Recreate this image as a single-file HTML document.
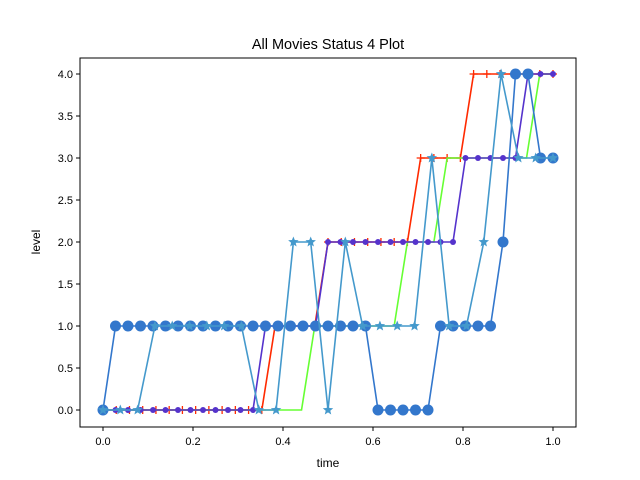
<!DOCTYPE html>
<html><head><meta charset="utf-8"><style>body{margin:0;background:#fff}svg{display:block;font-family:"Liberation Sans","DejaVu Sans",sans-serif}</style></head>
<body>
<svg id="chart" width="640" height="480" xmlns="http://www.w3.org/2000/svg">
<rect width="640" height="480" fill="#fff"/>
<text x="328" y="49" font-size="14.5" text-anchor="middle">All Movies Status 4 Plot</text>
<g id="plot"></g>
<rect x="80" y="58" width="496" height="369" fill="none" stroke="#000" stroke-width="1"/>
<g id="axes" font-size="11"></g>
<text x="328" y="467" font-size="12" text-anchor="middle">time</text>
<text x="40" y="242" font-size="12" text-anchor="middle" transform="rotate(-90 40 242)">level</text>
</svg>
<script>
const xTicks=[0,0.2,0.4,0.6,0.8,1.0];
const xTickLabels=["0.0","0.2","0.4","0.6","0.8","1.0"];
const yTicks=[0,0.5,1,1.5,2,2.5,3,3.5,4];
const yTickLabels=["0.0","0.5","1.0","1.5","2.0","2.5","3.0","3.5","4.0"];
const redLevels=[0,0,0,0,0,0,0,0,0,0,0,0,0,1,1,1,1,2,2,2,2,2,2,2,3,3,3,3,4,4,4,4,4,4,4];
const greenLevels=[0,0,0,0,0,0,0,0,0,0,0,0,0,0,0,0,1,1,1,1,1,1,1,2,2,2,3,3,3,3,3,3,3,4,4];
const purpleLevels=[0,0,0,0,0,0,0,0,0,0,0,0,0,1,1,1,1,1,2,2,2,2,2,2,2,2,2,2,2,3,3,3,3,3,4,4,4];
const starLevels=[0,0,0,1,1,1,1,1,1,0,0,2,2,0,2,1,1,1,1,3,1,1,2,4,3,3,3];
const dotLevels=[0,1,1,1,1,1,1,1,1,1,1,1,1,1,1,1,1,1,1,1,1,1,0,0,0,0,0,1,1,1,1,1,2,4,4,3,3];
const X=v=>103+v*450, Y=v=>410-v*84;
const NS="http://www.w3.org/2000/svg";
const plot=document.getElementById('plot'), axes=document.getElementById('axes');
function mk(t,a,p){const e=document.createElementNS(NS,t);for(const k in a)e.setAttribute(k,a[k]);p.appendChild(e);return e;}
xTicks.forEach((t,i)=>{
 const l=mk('line',{x1:X(t),x2:X(t),y1:427,y2:431,stroke:'#000'},axes);
 
 
 const s=mk('text',{x:X(t),y:445,'text-anchor':'middle'},axes);s.textContent=xTickLabels[i];
 
 
});
yTicks.forEach((t,i)=>{
 const l=mk('line',{x1:76,x2:80,y1:Y(t),y2:Y(t),stroke:'#000'},axes);
 
 
 const s=mk('text',{x:73,y:Y(t)+4,'text-anchor':'end'},axes);s.textContent=yTickLabels[i];
 
 
});
function series(levels,color,marker,name){
 const n=levels.length-1;
 const g=mk('g',{},plot);
 
 
 const pts=levels.map((v,i)=>[X(i/n),Y(v)]);
 mk('polyline',{points:pts.map(p=>p.join(',')).join(' '),fill:'none',stroke:color,'stroke-width':1.6},g);
 if(marker==='none')return;
 pts.forEach(([x,y])=>{
  let m;
  if(marker==='plus'){m=mk('path',{d:`M${x-4},${y}H${x+4}M${x},${y-4}V${y+4}`,stroke:color,'stroke-width':1.3},g);}
  else if(marker==='small'){m=mk('circle',{cx:x,cy:y,r:3,fill:color},g);}
  else if(marker==='big'){m=mk('circle',{cx:x,cy:y,r:5.5,fill:color},g);}
  else {let d='';for(let k=0;k<10;k++){const r=k%2?2.4:5.5,a=-Math.PI/2+k*Math.PI/5;d+=(k?'L':'M')+(x+r*Math.cos(a)).toFixed(2)+','+(y+r*Math.sin(a)).toFixed(2);}m=mk('path',{d:d+'Z',fill:color},g);}
  
  
 });
}
series(redLevels,'#ff2a00','plus','red-series');
series(greenLevels,'#66ff33','none','green-series');
series(purpleLevels,'#5533cc','small','purple-series');
series(dotLevels,'#3377cc','big','dot-series');
series(starLevels,'#4499cc','star','star-series');
</script>
</body></html>
